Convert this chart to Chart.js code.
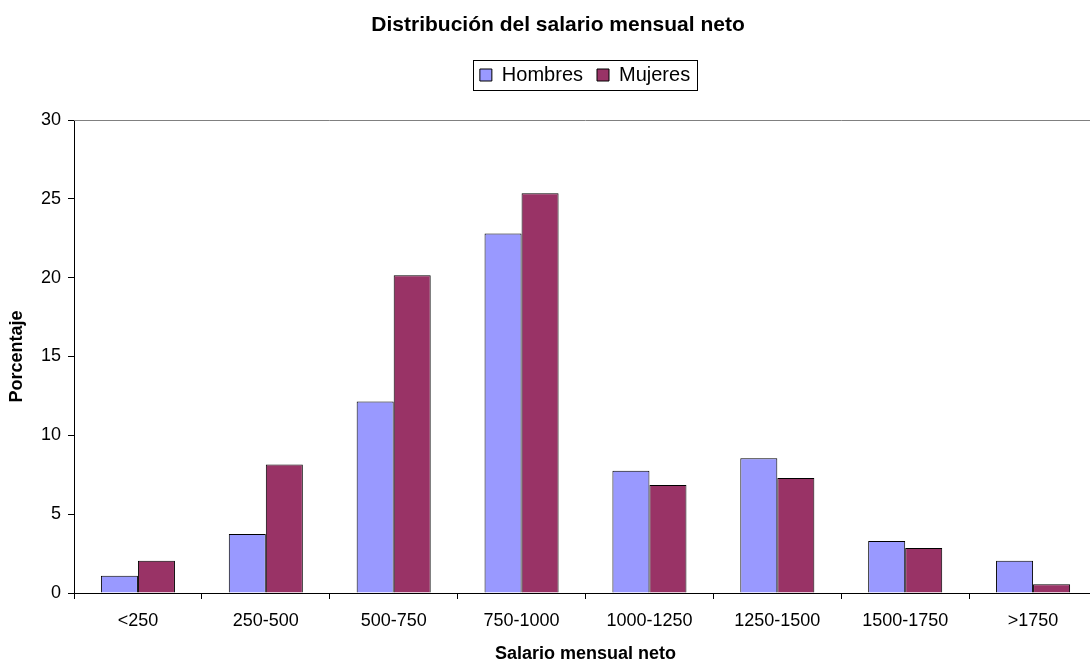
<!DOCTYPE html>
<html>
<head>
<meta charset="utf-8">
<script src="https://cdn.jsdelivr.net/npm/chart.js@4/dist/chart.umd.min.js"></script>
<style>
  html, body { margin:0; padding:0; background:#fff; overflow:hidden; }
  #wrap { width:1100px; height:661px; }
</style>
</head>
<body>
<div id="wrap"><canvas id="c" width="1100" height="661"></canvas></div>
<script>
// data
const categories = ['<250','250-500','500-750','750-1000','1000-1250','1250-1500','1500-1750','>1750'];
const hombres = [1.1, 3.75, 12.15, 22.8, 7.75, 8.55, 3.3, 2.05];
const mujeres = [2.05, 8.15, 20.15, 25.35, 6.85, 7.3, 2.85, 0.55];
const yTicks = [0, 5, 10, 15, 20, 25, 30];

const FONT = "'Liberation Sans', Arial, sans-serif";
const TITLE_X = 558, TITLE_Y = 25;
const LEG_X = 585, LEG_Y = 75;
const LEG_PAD = 14, LEG_FONT = 20;

/* place title + legend where the reference has them */
const placeBlocks = {
  id: 'placeBlocks',
  afterLayout(chart){
    const t = chart.titleBlock, l = chart.legend;
    if (t) {
      const lh = t.options.font.size * 1.2;
      const w = t.right - t.left, h = t.bottom - t.top;
      t.left = TITLE_X - w/2; t.right = TITLE_X + w/2;
      t.top = TITLE_Y - lh/2; t.bottom = t.top + h;
    }
    if (l) {
      const w = l.right - l.left, h = l.bottom - l.top;
      l.left = LEG_X - w/2; l.right = LEG_X + w/2;
      l.top = LEG_Y - LEG_PAD - LEG_FONT/2; l.bottom = l.top + h;
    }
  },
  afterDraw(chart){
    const ctx = chart.ctx, lg = chart.legend, a = chart.chartArea;
    ctx.save();
    // box round the legend
    const hb = lg.legendHitBoxes;
    const x0 = Math.min(...hb.map(b=>b.left)) - 7;
    const x1 = Math.max(...hb.map(b=>b.left + b.width)) + 7;
    ctx.strokeStyle = '#000'; ctx.lineWidth = 1;
    ctx.strokeRect(Math.round(x0)+0.5, LEG_Y - 15 + 0.5, Math.round(x1 - x0), 30);
    // grey plot-area edge (top / right)
    ctx.strokeStyle = '#808080';
    ctx.beginPath();
    ctx.moveTo(a.left, Math.round(a.top)+0.5); ctx.lineTo(a.right, Math.round(a.top)+0.5);
    ctx.moveTo(Math.round(a.right)-0.5, a.top); ctx.lineTo(Math.round(a.right)-0.5, a.bottom);
    ctx.stroke();
    ctx.restore();
  }
};

new Chart(document.getElementById('c'), {
  type: 'bar',
  data: {
    labels: categories,
    datasets: [
      {label:'Hombres', data:hombres, backgroundColor:'#9999FF', borderColor:'#000', borderWidth:1},
      {label:'Mujeres', data:mujeres, backgroundColor:'#993366', borderColor:'#000', borderWidth:1}
    ]
  },
  options: {
    responsive:false, animation:false,
    devicePixelRatio:1,
    datasets:{ bar:{ barPercentage:1, categoryPercentage:0.579 } },
    layout:{ padding:{ left:0, right:3, top:0, bottom:0 } },
    plugins:{
      title:{ display:true, text:'Distribución del salario mensual neto', color:'#000',
        font:{ family:FONT, size:21, weight:'bold' }, padding:{ top:0, bottom:50.8 } },
      legend:{ position:'top', labels:{ color:'#000', font:{ family:FONT, size:LEG_FONT },
        boxWidth:12, boxHeight:12, padding:LEG_PAD,
        generateLabels(chart){
          return chart.data.datasets.map((d,i)=>({text:d.label, fillStyle:d.backgroundColor, strokeStyle:'#000', lineWidth:1, datasetIndex:i, fontColor:'#000'}));
        } } },
      tooltip:{ enabled:false }
    },
    scales:{
      x:{
        offset:true,
        grid:{ offset:true, drawOnChartArea:false, drawTicks:true, tickLength:6, color:'#000' },
        border:{ color:'#000', width:1 },
        ticks:{ color:'#000', font:{ family:FONT, size:18 }, padding:11, maxRotation:0 },
        title:{ display:true, text:'Salario mensual neto', color:'#000', font:{ family:FONT, size:18, weight:'bold' }, padding:{ top:0, bottom:-4 } },
        afterFit(s){ s.height = 68; }
      },
      y:{
        min:0, max:30,
        afterBuildTicks(s){ s.ticks = yTicks.map(v=>({value:v})); },
        grid:{ drawOnChartArea:false, drawTicks:true, tickLength:6, color:'#000' },
        border:{ color:'#000', width:1 },
        ticks:{ color:'#000', font:{ family:FONT, size:18 }, padding:7 },
        title:{ display:true, text:'Porcentaje', color:'#000', font:{ family:FONT, size:18, weight:'bold' }, padding:{ top:6, bottom:0 } },
        afterFit(s){ s.width = 74; }
      }
    }
  },
  plugins:[placeBlocks]
});
</script>
</body>
</html>
